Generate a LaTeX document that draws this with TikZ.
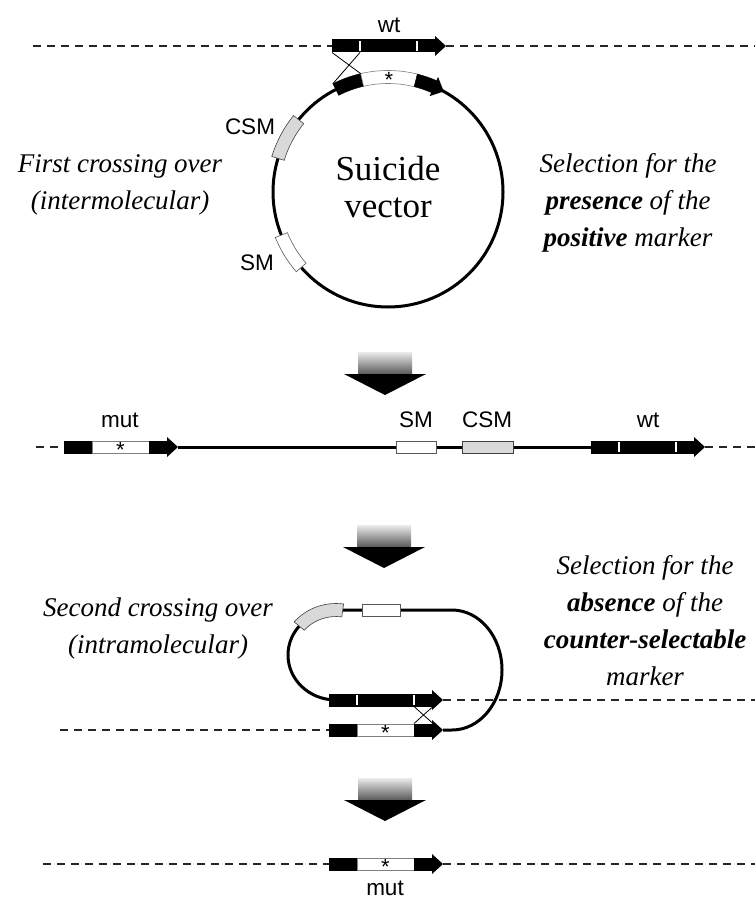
\documentclass[tikz,border=0pt]{standalone}
\usepackage{fontspec}
\setmainfont{Liberation Serif}
\setsansfont{Liberation Sans}
\usetikzlibrary{positioning,calc}

% gene drawn on a line: name, left x, y
\newcommand{\wtgene}[3]{%
\fill (#2,#3-6.5) rectangle (#2+104,#3+6.5);
\fill (#2+103,#3+10) -- (#2+114,#3) -- (#2+103,#3-10) -- cycle;
\draw[white,line width=1.2pt] (#2+28,#3-5) -- (#2+28,#3+5) (#2+85,#3-5) -- (#2+85,#3+5);
\coordinate (#1 w) at (#2,#3);
\coordinate (#1 e) at (#2+114,#3);
}
\newcommand{\mutgene}[3]{%
\fill (#2,#3-6.5) rectangle (#2+28,#3+6.5);
\draw[gray,fill=white,line width=0.6pt] (#2+28,#3-6) rectangle (#2+85,#3+6);
\fill (#2+85,#3-6.5) rectangle (#2+104,#3+6.5);
\fill (#2+103,#3+10) -- (#2+114,#3) -- (#2+103,#3-10) -- cycle;
\node[asterisk] (#1 star) at (#2+56.5,#3) {*};
\coordinate (#1 w) at (#2,#3);
\coordinate (#1 e) at (#2+114,#3);
}
% band on the vector circle: style, start angle, end angle
\newcommand{\band}[3]{%
\draw[#1] ([shift={(#2:121.5pt)}]vc) arc[start angle=#2,end angle=#3,radius=121.5pt]
  -- ([shift={(#3:108.5pt)}]vc) arc[start angle=#3,end angle=#2,radius=108.5pt] -- cycle;
}
% big shaded arrow: centre x, top y
\newcommand{\bigdown}[2]{%
\shade[top color=gray!15,bottom color=gray!70!black] (#1-27,#2) rectangle (#1+27,#2-22);
\fill (#1-41,#2-22) -- (#1+41,#2-22) -- (#1,#2-43) -- cycle;
}

\begin{document}
\begin{tikzpicture}[x=1pt,y=1pt,
dna/.style={line width=3pt},
dashline/.style={line width=1.3pt,dash pattern=on 8pt off 6pt,black!85},
cross/.style={line width=0.8pt},
smbox/.style={draw=gray!70!black,fill=white,line width=0.7pt,minimum width=40pt,minimum height=12pt,inner sep=0pt},
csmbox/.style={draw=black!75,fill=gray!30,line width=0.7pt,minimum width=51pt,minimum height=12pt,inner sep=0pt},
lbl/.style={font=\sffamily\fontsize{22.5}{26}\selectfont,inner sep=0pt},
asterisk/.style={font=\sffamily\fontsize{22}{22}\selectfont,inner sep=0pt,yshift=-3pt},
note/.style={font=\fontsize{27}{37}\selectfont\itshape,align=center}]
\useasboundingbox (0,0) rectangle (755,-899);

% first crossing over
\coordinate (vc) at (388,-192);
\draw[dna] (vc) circle[radius=115pt];
\wtgene{g1}{332}{-46}
\coordinate (l1a) at (33,-46);
\coordinate (l1b) at (755,-46);
\draw[dashline] (l1a) -- (g1 w);
\draw[dashline] (g1 e) -- (l1b);
\node[lbl] (wt1) at (389,-25) {wt};
\band{fill=black}{117}{103}
\band{fill=white,draw=gray,line width=0.6pt}{103}{76}
\band{fill=black}{76}{66}
\fill ([shift={(66.5:125.5pt)}]vc) -- ([shift={(61:115pt)}]vc) -- ([shift={(66.5:104.5pt)}]vc) -- cycle;
\node[asterisk] (vstar) at ([shift={(89.5:115pt)}]vc) {*};
\band{fill=gray!30,draw=black!75,line width=0.6pt}{141}{163}
\band{fill=white,draw=gray!70!black,line width=0.6pt}{202}{221}
\draw[cross] ([yshift=-6.5pt]g1 w) -- ([shift={(103:121.5pt)}]vc);
\draw[cross] ([xshift=28pt,yshift=-6.5pt]g1 w) -- ([shift={(117:121.5pt)}]vc);
\node[lbl] (csm1) at (250,-127) {CSM};
\node[lbl] (sm1) at (257,-263) {SM};
\node[font=\fontsize{35}{37}\selectfont,align=center] (sv) at (388,-187) {Suicide\\vector};
\node[note] (first) at (120,-185) {First crossing over\\(intermolecular)};
\node[note] (pos) at (628,-203) {Selection for the\\\textbf{presence} of the\\\textbf{positive} marker};

\bigdown{385}{-352}

% integrated vector
\coordinate (l2a) at (36,-447);
\coordinate (l2b) at (755,-447);
\mutgene{g2}{64}{-447}
\wtgene{g3}{591}{-447}
\draw[dashline] (l2a) -- (g2 w);
\draw[dashline] (g3 e) -- (l2b);
\draw[dna] (g2 e) -- (g3 w);
\node[smbox] (sm2) at (416,-447) {};
\node[csmbox] (csm2) at (487.5,-447) {};
\node[lbl] (mut2) at (120,-420) {mut};
\node[lbl] (smt2) at (416,-420) {SM};
\node[lbl] (csmt2) at (487,-420) {CSM};
\node[lbl] (wt2) at (648,-420) {wt};

\bigdown{384}{-525}

% second crossing over
\coordinate (lc) at (336,-655);
\coordinate (l3a) at (60,-730);
\coordinate (l3b) at (755,-700);
\draw[dna] ([shift={(-90:48pt and 45pt)}]lc) arc[start angle=270,end angle=90,x radius=48pt,y radius=45pt]
  -- (452,-610) arc[start angle=90,end angle=-90,x radius=50pt,y radius=60pt] -- (443,-730);
\draw[draw=black!75,fill=gray!30,line width=0.6pt] ([shift={(82:54.5pt and 51.5pt)}]lc) arc[start angle=82,end angle=140,x radius=54.5pt,y radius=51.5pt]
  -- ([shift={(140:41.5pt and 38.5pt)}]lc) arc[start angle=140,end angle=82,x radius=41.5pt,y radius=38.5pt] -- cycle;
\node[smbox,minimum width=38pt] (sm3) at (381,-610.5) {};
\wtgene{g4}{329}{-700}
\mutgene{g5}{329}{-730}
\draw[dashline] (g4 e) -- (l3b);
\draw[dashline] (l3a) -- (g5 w);
\draw[cross] ([xshift=85pt,yshift=-6.5pt]g4 w) -- ([xshift=104pt,yshift=6.5pt]g5 w);
\draw[cross] ([xshift=104pt,yshift=-6.5pt]g4 w) -- ([xshift=85pt,yshift=6.5pt]g5 w);
\node[note] (second) at (158,-628) {Second crossing over\\(intramolecular)};
\node[note] (abs) at (645,-621) {Selection for the\\\textbf{absence} of the\\\textbf{counter-selectable}\\marker};

\bigdown{385}{-778}

% result
\coordinate (l4a) at (43,-864);
\coordinate (l4b) at (755,-864);
\mutgene{g6}{329}{-864}
\draw[dashline] (l4a) -- (g6 w);
\draw[dashline] (g6 e) -- (l4b);
\node[lbl] (mut6) at (385,-888) {mut};
\end{tikzpicture}
\end{document}
